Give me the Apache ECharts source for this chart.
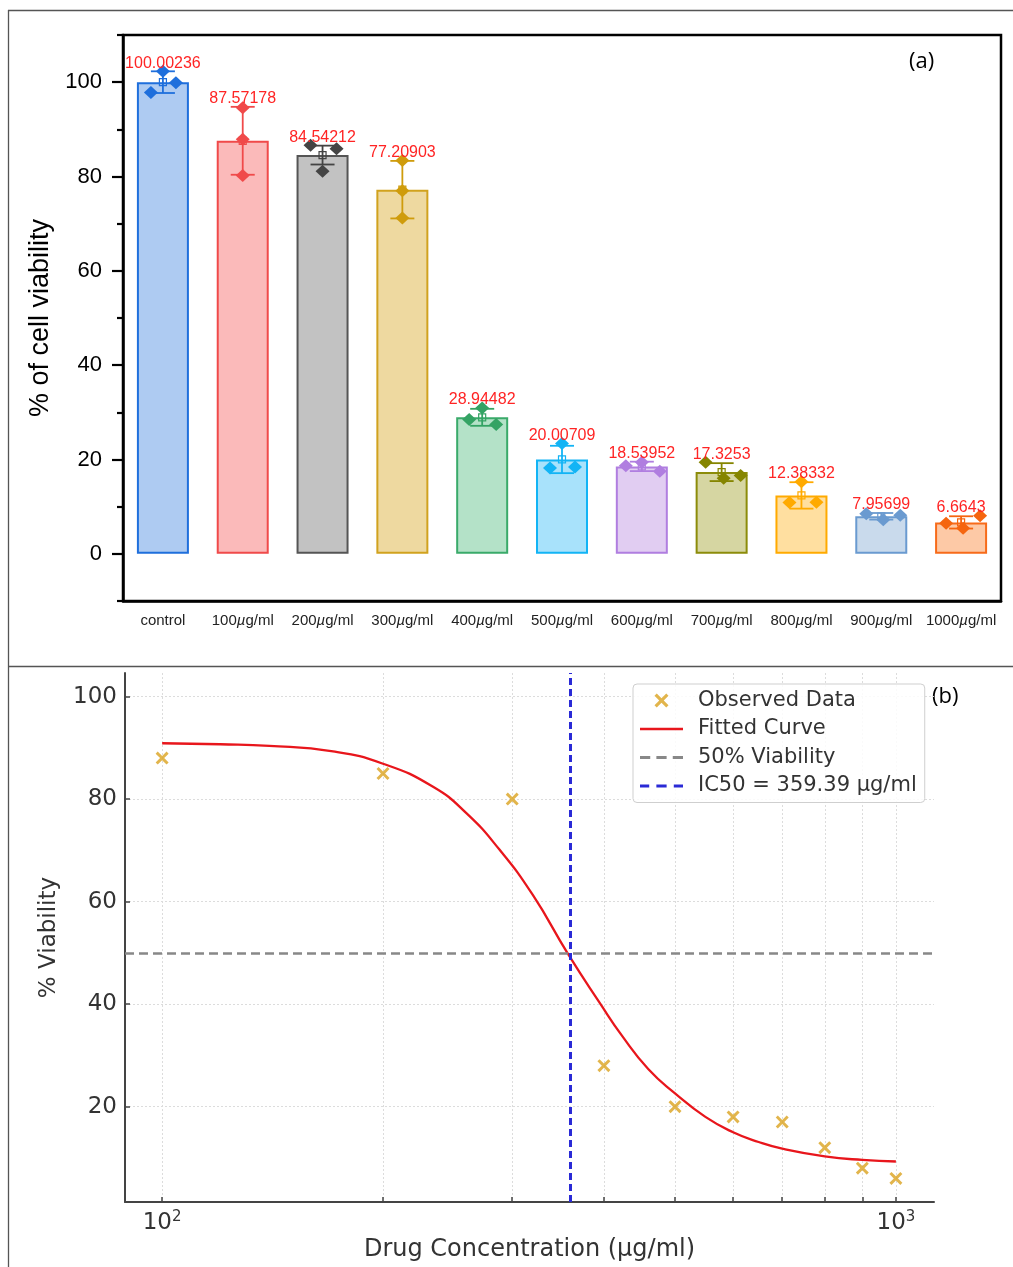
<!DOCTYPE html>
<html><head><meta charset="utf-8">
<script src="https://cdn.jsdelivr.net/npm/echarts@6/dist/echarts.min.js"></script>
<style>html,body{margin:0;padding:0;background:#fff}#c{width:1013px;height:1267px}</style>
</head><body><div id="c"></div>
<script>
// ---------- Panel (a) data ----------
const categories = ['control','100µg/ml','200µg/ml','300µg/ml','400µg/ml','500µg/ml','600µg/ml','700µg/ml','800µg/ml','900µg/ml','1000µg/ml'];
const meanValues = [100.00236, 87.57178, 84.54212, 77.20903, 28.94482, 20.00709, 18.53952, 17.3253, 12.38332, 7.95699, 6.6643];
const errorValues = [2.3, 7.2, 2.0, 6.1, 1.8, 2.9, 1.0, 1.9, 2.8, 0.7, 1.3];
const replicate1 = [97.8, 94.6, 86.6, 83.4, 28.5, 18.2, 18.7, 19.4, 10.9, 8.5, 6.5];
const replicate2 = [102.3, 87.9, 81.1, 77.0, 30.9, 23.4, 19.4, 16.0, 15.3, 7.2, 5.4];
const replicate3 = [99.9, 80.2, 85.9, 71.2, 27.4, 18.4, 17.5, 16.6, 10.95, 8.2, 8.1];
const yTicksA = [0, 20, 40, 60, 80, 100];
const yMinorTicksA = [-10, 10, 30, 50, 70, 90, 110];

// ---------- Panel (b) data ----------
const concentrations = [100, 200, 300, 400, 500, 600, 700, 800, 900, 1000];
const observedViability = [88, 85, 80, 28, 20, 18, 17, 12, 8, 6];
const fitX = [100, 120, 140, 171, 200, 234, 260, 288, 320, 357, 395, 424, 460, 500, 550, 600, 650, 700, 800, 900, 1000];
const fitY = [90.9, 90.7, 90.4, 89.3, 86.9, 82.4, 77.2, 70.2, 61.3, 49.9, 40.2, 33.7, 27.3, 22.6, 18.0, 15.0, 13.1, 11.8, 10.3, 9.6, 9.3];
const ic50 = 359.39;
const viability50 = 50;
const xTicksB = [100, 200, 300, 400, 500, 600, 700, 800, 900, 1000];
const xLabelsB = [100, 1000];
const yTicksB = [20, 40, 60, 80, 100];

// ---------- styles ----------
const FILL = ['#aecbf2','#fbbaba','#c2c2c2','#eed9a0','#b4e2c8','#a8e2fb','#e1cdf2','#d6d6a2','#ffdfa0','#c9daec','#fdc9a6'];
const EDGE = ['#1f6fdc','#f04a4a','#555555','#d1a21e','#3aaa6a','#12b4f5','#b07ee0','#8c8c0a','#ffaa00','#6a9ad0','#f76b1a'];
const PT   = ['#1f6fdc','#f04a4a','#444444','#cf9c0c','#34a364','#12b4f5','#b07ee0','#858500','#ffaa00','#6a9ad0','#f5650f'];
const JITTER = [[-12,0,13],[0,0,0],[-12,0,14],[0,0,0],[-13,0,14],[-12,0,13],[-16,0,18],[-16,2,19],[-12,0,15],[-15,2,19],[-15,2,19]];
const XMARK = 'path://M1.6,0 L5,3.4 L8.4,0 L10,1.6 L6.6,5 L10,8.4 L8.4,10 L5,6.6 L1.6,10 L0,8.4 L3.4,5 L0,1.6 Z';
const DASH_GRAY = 'path://M0,0h10v3h-10z M16,0h10v3h-10z M32,0h10v3h-10z';
const DASH_BLUE = 'path://M0,0h9v3h-9z M16,0h10v3h-10z M33,0h9v3h-9z';
const SOLID = 'path://M0,0h42v2.6h-42z';
const mpl = '"DejaVu Sans", sans-serif';
const arial = '"Liberation Sans", Arial, sans-serif';

const groupData = categories.map((c, i) => [i, meanValues[i], errorValues[i], replicate1[i], replicate2[i], replicate3[i]]);

const chart = echarts.init(document.getElementById('c'), null, {renderer: 'canvas'});
chart.setOption({
  animation: false,
  backgroundColor: '#fff',
  grid: [
    {left: 123, top: 35, width: 878, height: 566, show: true, borderColor: '#000', borderWidth: 2.5, backgroundColor: 'transparent'},
    {left: 125, top: 673, width: 809, height: 529}
  ],
  xAxis: [
    {type: 'category', gridIndex: 0, data: categories,
     axisLine: {onZero: false, lineStyle: {color: '#000', width: 2.5}},
     axisTick: {alignWithLabel: true, length: 8, lineStyle: {color: '#000', width: 2.2}},
     axisLabel: {interval: 0, margin: 12, color: '#222', fontSize: 15, fontFamily: arial,
       formatter: v => v.replace('µ', '{mu|µ}'),
       rich: {mu: {fontStyle: 'italic', fontSize: 15, fontFamily: arial, color: '#222'}}},
     splitLine: {show: false}},
    {type: 'log', logBase: 10, gridIndex: 1, min: 89, max: 1127,
     name: 'Drug Concentration (µg/ml)', nameLocation: 'middle', nameGap: 36,
     nameTextStyle: {fontSize: 24, fontFamily: mpl, color: '#333'},
     axisLine: {onZero: false, lineStyle: {color: '#444', width: 2}},
     axisTick: {customValues: xTicksB, inside: true, length: 5, lineStyle: {color: '#444', width: 1.5}},
     axisLabel: {customValues: xLabelsB, margin: 8, color: '#333', fontSize: 23, fontFamily: mpl,
       formatter: v => '10{s|' + Math.round(Math.log10(v)) + '}',
       rich: {s: {fontSize: 15, fontFamily: mpl, color: '#333', padding: [0, 0, 12, 0]}}},
     splitLine: {show: true, lineStyle: {color: '#dcdcdc', width: 1, type: [2, 2]}},
     minorTick: {show: false}}
  ],
  yAxis: [
    {type: 'value', gridIndex: 0, min: -10, max: 110,
     name: '% of cell viability', nameLocation: 'middle', nameGap: 68,
     nameTextStyle: {fontSize: 27, fontFamily: arial, color: '#000'},
     axisLine: {show: true, onZero: false, lineStyle: {color: '#000', width: 2.5}},
     axisTick: {show: true, customValues: yTicksA, length: 11, lineStyle: {color: '#000', width: 2.2}},
     axisLabel: {customValues: yTicksA, margin: 21, fontSize: 22, fontFamily: arial, color: '#000'},
     splitLine: {show: false}},
    {type: 'value', gridIndex: 0, min: -10, max: 110, position: 'left', offset: 0,
     axisLine: {show: false},
     axisTick: {show: true, customValues: yMinorTicksA, length: 6, lineStyle: {color: '#000', width: 2.2}},
     axisLabel: {show: false}, splitLine: {show: false}},
    {type: 'value', gridIndex: 1, min: 1.4, max: 104.6,
     name: '% Viability', nameLocation: 'middle', nameGap: 64,
     nameTextStyle: {fontSize: 23, fontFamily: mpl, color: '#333'},
     axisLine: {show: true, onZero: false, lineStyle: {color: '#444', width: 2}},
     axisTick: {show: true, customValues: yTicksB, inside: true, length: 5, lineStyle: {color: '#444', width: 1.5}},
     axisLabel: {customValues: yTicksB, margin: 8, fontSize: 23, fontFamily: mpl, color: '#333'},
     splitLine: {show: true, lineStyle: {color: '#dcdcdc', width: 1, type: [2, 2]}}}
  ],
  legend: {
    left: 633, top: 684, orient: 'vertical',
    itemWidth: 43, itemHeight: 14, itemGap: 7.5,
    padding: [6, 8, 6, 7],
    borderColor: '#cfcfcf', borderWidth: 1, borderRadius: 4, backgroundColor: 'rgba(255,255,255,0.85)',
    textStyle: {fontSize: 21, fontFamily: mpl, color: '#333', lineHeight: 21, padding: [0, 0, 0, 10]},
    data: [
      {name: 'Observed Data', icon: XMARK},
      {name: 'Fitted Curve', icon: SOLID},
      {name: '50% Viability', icon: DASH_GRAY},
      {name: 'IC50 = 359.39 µg/ml', icon: DASH_BLUE}
    ]
  },
  series: [
    {type: 'bar', xAxisIndex: 0, yAxisIndex: 0, barWidth: 52, silent: true, z: 2,
     data: meanValues.map((v, i) => ({value: v, itemStyle: {color: FILL[i], borderColor: EDGE[i], borderWidth: 2}}))},
    {type: 'custom', xAxisIndex: 0, yAxisIndex: 0, silent: true, data: groupData, z: 10,
     encode: {x: 0, y: 1},
     renderItem: function (params, api) {
       const i = params.dataIndex;
       const mean = api.value(1), err = api.value(2);
       const pts = [api.value(3), api.value(4), api.value(5)];
       const pm = api.coord([i, mean]);
       const cx = pm[0];
       const yTop = api.coord([i, mean + err])[1];
       const yBot = api.coord([i, mean - err])[1];
       const col = PT[i];
       const ch = [];
       ch.push({type: 'line', shape: {x1: cx, y1: yTop, x2: cx, y2: yBot}, style: {stroke: col, lineWidth: 1.8}, z2: 10});
       ch.push({type: 'line', shape: {x1: cx - 12, y1: yTop, x2: cx + 12, y2: yTop}, style: {stroke: col, lineWidth: 1.8}, z2: 10});
       ch.push({type: 'line', shape: {x1: cx - 12, y1: yBot, x2: cx + 12, y2: yBot}, style: {stroke: col, lineWidth: 1.8}, z2: 10});
       let topY = yTop;
       pts.forEach((v, k) => {
         const p = api.coord([i, v]);
         const x = p[0] + JITTER[i][k], y = p[1];
         topY = Math.min(topY, y);
         ch.push({type: 'polygon', shape: {points: [[x, y - 6.5], [x + 7, y], [x, y + 6.5], [x - 7, y]]}, style: {fill: col}, z2: 11});
       });
       ch.push({type: 'rect', shape: {x: cx - 3.5, y: pm[1] - 3.5, width: 7, height: 7}, style: {fill: 'none', stroke: col, lineWidth: 1.2}, z2: 12});
       ch.push({type: 'text', style: {text: String(meanValues[i]), x: cx, y: topY - 8, align: 'center', verticalAlign: 'middle',
         font: '16px "Liberation Sans", Arial, sans-serif', fill: '#ff2424'}, z2: 13});
       return {type: 'group', children: ch};
     }},
    {name: 'Fitted Curve', type: 'line', xAxisIndex: 1, yAxisIndex: 2, smooth: 0.5, symbol: 'none', silent: true,
     color: '#e8161c', lineStyle: {color: '#e8161c', width: 2.3},
     data: fitX.map((x, i) => [x, fitY[i]])},
    {name: 'Observed Data', type: 'scatter', xAxisIndex: 1, yAxisIndex: 2, symbol: XMARK, symbolSize: 13, silent: true,
     color: '#dba31f', itemStyle: {color: '#dba31f'}, z: 5,
     data: concentrations.map((x, i) => [x, observedViability[i]])},
    {name: '50% Viability', type: 'line', xAxisIndex: 1, yAxisIndex: 2, data: [], symbol: 'none',
     color: '#888888', lineStyle: {color: '#888888', width: 2.5, type: [9, 5]},
     markLine: {silent: true, symbol: 'none', label: {show: false}, animation: false,
       lineStyle: {color: '#888888', width: 2.5, type: [9, 5]}, data: [{yAxis: viability50}]}},
    {name: 'IC50 = 359.39 µg/ml', type: 'line', xAxisIndex: 1, yAxisIndex: 2, data: [], symbol: 'none',
     color: '#2a2ad6', lineStyle: {color: '#2a2ad6', width: 3, type: [7, 4]},
     markLine: {silent: true, symbol: 'none', label: {show: false}, animation: false,
       lineStyle: {color: '#2a2ad6', width: 3, type: [7, 4]}, data: [{xAxis: ic50}]}}
  ],
  graphic: [
    {type: 'line', shape: {x1: 8, y1: 10.5, x2: 1013, y2: 10.5}, style: {stroke: '#555', lineWidth: 1.3}, silent: true},
    {type: 'line', shape: {x1: 8.5, y1: 10, x2: 8.5, y2: 1267}, style: {stroke: '#555', lineWidth: 1.3}, silent: true},
    {type: 'line', shape: {x1: 8, y1: 666.5, x2: 1013, y2: 666.5}, style: {stroke: '#555', lineWidth: 1.3}, silent: true},
    {type: 'text', left: 909, top: 51, style: {text: '(a)', font: '22px "Open Sans", sans-serif', fill: '#000'}, silent: true},
    {type: 'text', left: 932, top: 686, style: {text: '(b)', font: '22px "Open Sans", sans-serif', fill: '#000'}, silent: true}
  ]
});
</script>
</body></html>
